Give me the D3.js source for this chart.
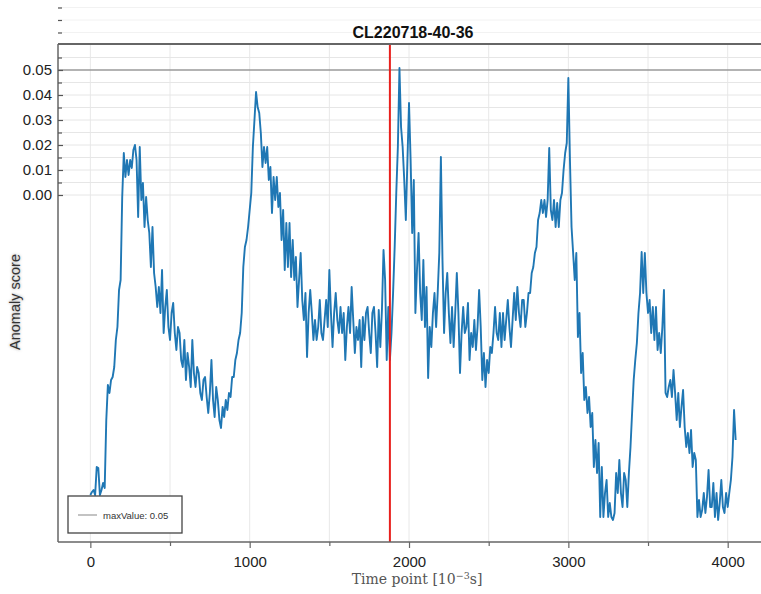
<!DOCTYPE html>
<html>
<head>
<meta charset="utf-8">
<script src="https://cdn.jsdelivr.net/npm/d3@7"></script>
<style>
  html, body { margin: 0; padding: 0; background: #fff; }
  svg { display: block; }
</style>
</head>
<body>
<svg id="chart" width="761" height="594"></svg>
<script>
// ---------------- DATA ----------------
const chartTitle = "CL220718-40-36";
const timeStart = 0;        // first time point [10^-3 s]
const timeStep = 10;        // spacing between samples [10^-3 s]
const anomalyScore = [
  -0.1200,-0.1188,-0.1180,-0.1200,-0.1088,-0.1092,-0.1200,-0.1180,-0.1152,-0.1172,
  -0.0900,-0.0760,-0.0792,-0.0740,-0.0728,-0.0688,-0.0580,-0.0528,-0.0380,-0.0340,
  -0.0008,0.0168,0.0072,0.0140,0.0080,0.0140,0.0108,0.0180,0.0200,0.0140,
  -0.0088,0.0192,-0.0020,0.0048,-0.0128,-0.0008,-0.0100,-0.0152,-0.0288,-0.0128,
  -0.0312,-0.0368,-0.0448,-0.0368,-0.0472,-0.0300,-0.0552,-0.0448,-0.0380,-0.0528,
  -0.0580,-0.0472,-0.0432,-0.0552,-0.0620,-0.0528,-0.0552,-0.0660,-0.0688,-0.0580,
  -0.0740,-0.0632,-0.0688,-0.0768,-0.0580,-0.0712,-0.0768,-0.0688,-0.0712,-0.0792,
  -0.0820,-0.0740,-0.0728,-0.0808,-0.0872,-0.0792,-0.0660,-0.0820,-0.0888,-0.0768,
  -0.0820,-0.0900,-0.0932,-0.0848,-0.0888,-0.0820,-0.0860,-0.0792,-0.0808,-0.0728,
  -0.0728,-0.0660,-0.0632,-0.0580,-0.0552,-0.0472,-0.0288,-0.0208,-0.0180,-0.0128,
  -0.0060,0.0008,0.0192,0.0300,0.0412,0.0352,0.0328,0.0248,0.0112,0.0192,
  0.0128,0.0192,0.0060,0.0112,-0.0072,0.0072,-0.0020,0.0072,-0.0048,0.0008,
  -0.0180,-0.0060,-0.0300,-0.0112,-0.0288,-0.0112,-0.0328,-0.0180,-0.0340,-0.0248,
  -0.0448,-0.0340,-0.0232,-0.0420,-0.0500,-0.0392,-0.0648,-0.0472,-0.0380,-0.0472,
  -0.0580,-0.0500,-0.0580,-0.0528,-0.0420,-0.0552,-0.0580,-0.0500,-0.0420,-0.0528,
  -0.0300,-0.0472,-0.0608,-0.0472,-0.0392,-0.0500,-0.0552,-0.0448,-0.0552,-0.0472,
  -0.0660,-0.0528,-0.0448,-0.0552,-0.0368,-0.0500,-0.0632,-0.0528,-0.0580,-0.0500,
  -0.0688,-0.0488,-0.0580,-0.0472,-0.0448,-0.0552,-0.0632,-0.0472,-0.0448,-0.0552,
  -0.0688,-0.0460,-0.0608,-0.0460,-0.0220,-0.0340,-0.0660,-0.0448,-0.0660,-0.0552,
  -0.0392,-0.0208,0.0008,0.0192,0.0508,0.0272,0.0192,0.0060,-0.0100,0.0140,
  0.0368,0.0140,-0.0152,0.0060,-0.0472,-0.0300,-0.0152,-0.0392,-0.0500,-0.0260,
  -0.0528,-0.0368,-0.0732,-0.0528,-0.0608,-0.0472,-0.0392,-0.0528,-0.0392,-0.0232,
  0.0152,-0.0260,-0.0552,-0.0392,-0.0312,-0.0472,-0.0592,-0.0448,-0.0608,-0.0472,
  -0.0312,-0.0472,-0.0712,-0.0552,-0.0448,-0.0552,-0.0528,-0.0432,-0.0660,-0.0552,
  -0.0608,-0.0500,-0.0620,-0.0528,-0.0380,-0.0528,-0.0740,-0.0632,-0.0768,-0.0660,
  -0.0712,-0.0608,-0.0632,-0.0552,-0.0448,-0.0552,-0.0580,-0.0472,-0.0608,-0.0472,
  -0.0580,-0.0500,-0.0420,-0.0528,-0.0608,-0.0500,-0.0392,-0.0500,-0.0368,-0.0472,
  -0.0528,-0.0420,-0.0420,-0.0528,-0.0472,-0.0392,-0.0392,-0.0312,-0.0288,-0.0232,
  -0.0208,-0.0100,-0.0072,-0.0020,-0.0072,-0.0020,-0.0088,-0.0020,0.0188,-0.0060,
  -0.0100,-0.0020,-0.0128,-0.0032,-0.0128,-0.0020,0.0008,0.0100,0.0168,0.0208,
  0.0468,0.0140,-0.0128,-0.0232,-0.0340,-0.0232,-0.0568,-0.0472,-0.0712,-0.0632,
  -0.0820,-0.0768,-0.0872,-0.0808,-0.0928,-0.0872,-0.1088,-0.0980,-0.1112,-0.0992,
  -0.1288,-0.1088,-0.1288,-0.1192,-0.1140,-0.1288,-0.1232,-0.1288,-0.1300,-0.1272,
  -0.1112,-0.1192,-0.1060,-0.1192,-0.1248,-0.1112,-0.1140,-0.1248,-0.1112,-0.1008,
  -0.0872,-0.0740,-0.0660,-0.0592,-0.0472,-0.0392,-0.0228,-0.0392,-0.0232,-0.0392,
  -0.0472,-0.0420,-0.0552,-0.0448,-0.0580,-0.0448,-0.0620,-0.0552,-0.0632,-0.0528,
  -0.0380,-0.0792,-0.0808,-0.0768,-0.0740,-0.0808,-0.0700,-0.0792,-0.0900,-0.0792,
  -0.0928,-0.0848,-0.0780,-0.0928,-0.1008,-0.0952,-0.1032,-0.0940,-0.1088,-0.1032,
  -0.1060,-0.1288,-0.1220,-0.1288,-0.1260,-0.1192,-0.1272,-0.1208,-0.1100,-0.1248,
  -0.1248,-0.1152,-0.1288,-0.1192,-0.1300,-0.1232,-0.1140,-0.1248,-0.1272,-0.1192,
  -0.1248,-0.1192,-0.1140,-0.1048,-0.0860,-0.0980
];
const maxValue = 0.05;
const markerTime = 1880;     // red vertical marker
const xTickValues = [0, 1000, 2000, 3000, 4000];
const xMinorTickValues = [500, 1500, 2500, 3500];
const yTickValues = [0.00, 0.01, 0.02, 0.03, 0.04, 0.05];
const yMinorTickValues = [0.005, 0.015, 0.025, 0.035, 0.045, 0.055, 0.065, 0.07, 0.075];
const xGridValues = [0, 500, 1000, 1500, 2000, 2500, 3000, 3500, 4000];
const yGridValues = [0.00, 0.005, 0.01, 0.015, 0.02, 0.025, 0.03, 0.035, 0.04, 0.045, 0.055];
const yOuterGridValues = [0.065, 0.07, 0.075];
const legendLabel = "maxValue: 0.05";

// ---------------- LAYOUT ----------------
const svg = d3.select("#chart");
const L = 58, R = 768, T = 44, B = 542;
const x = d3.scaleLinear().domain([-203, 4253]).range([L, R]);
const y = d3.scaleLinear().domain([-0.1388, 0.0604]).range([B, T]);

const points = anomalyScore.map((v, i) => ({ t: timeStart + i * timeStep, v }));

svg.append("defs").append("clipPath").attr("id", "plotclip")
  .append("rect").attr("x", L).attr("y", T).attr("width", R - L).attr("height", B - T);

const blur = svg.select("defs").append("filter").attr("id", "soft")
  .attr("x", "-20%").attr("y", "-20%").attr("width", "140%").attr("height", "140%");
blur.append("feGaussianBlur").attr("stdDeviation", 1.6);

// outer faint grid above plot
svg.append("g").selectAll("line").data(yOuterGridValues).join("line")
  .attr("x1", L).attr("x2", R).attr("y1", d => y(d)).attr("y2", d => y(d))
  .attr("stroke", "#f2f2f2").attr("stroke-width", 1);

// grid
const grid = svg.append("g");
grid.selectAll("line.v").data(xGridValues).join("line").attr("class", "v")
  .attr("x1", d => x(d)).attr("x2", d => x(d)).attr("y1", T).attr("y2", B)
  .attr("stroke", "#e8e8e8").attr("stroke-width", 1);
grid.selectAll("line.h").data(yGridValues).join("line").attr("class", "h")
  .attr("x1", L).attr("x2", R).attr("y1", d => y(d)).attr("y2", d => y(d))
  .attr("stroke", "#e6e6e6").attr("stroke-width", 1);

// max value line
svg.append("line")
  .attr("x1", L).attr("x2", R).attr("y1", y(maxValue)).attr("y2", y(maxValue))
  .attr("stroke", "#9a9a9a").attr("stroke-width", 1.4);

// data line
const line = d3.line().x(d => x(d.t)).y(d => y(d.v));
svg.append("path").datum(points)
  .attr("clip-path", "url(#plotclip)")
  .attr("d", line)
  .attr("fill", "none")
  .attr("stroke", "#1f77b4")
  .attr("stroke-width", 1.9)
  .attr("stroke-linejoin", "round");

// red marker
svg.append("line")
  .attr("x1", x(markerTime)).attr("x2", x(markerTime)).attr("y1", T).attr("y2", B)
  .attr("stroke", "#e8201c").attr("stroke-width", 2);

// frame
svg.append("line").attr("x1", L).attr("x2", R).attr("y1", T).attr("y2", T)
  .attr("stroke", "#666").attr("stroke-width", 2);

// x axis
const xAxis = svg.append("g").attr("transform", `translate(0,${B})`)
  .call(d3.axisBottom(x).tickValues(xTickValues).tickSize(6).tickSizeOuter(0).tickFormat(d3.format("d")));
xAxis.select(".domain").attr("stroke", "#666").attr("stroke-width", 1.5)
  .attr("d", `M${L},0H${R}`);
xAxis.selectAll(".tick line").attr("stroke", "#666").attr("stroke-width", 1.2);
xAxis.selectAll(".tick text").attr("font-family", "Liberation Sans, Arial, sans-serif")
  .attr("font-size", 15).attr("fill", "#222").attr("dy", "1.05em");
const xMinor = svg.append("g").attr("transform", `translate(0,${B})`)
  .call(d3.axisBottom(x).tickValues(xMinorTickValues).tickSize(4).tickFormat(""));
xMinor.select(".domain").remove();
xMinor.selectAll(".tick line").attr("stroke", "#666").attr("stroke-width", 1.2);

// y axis (inner ticks)
const yAxis = svg.append("g").attr("transform", `translate(${L},0)`)
  .call(d3.axisRight(y).tickValues(yTickValues).tickSize(5).tickSizeOuter(0).tickFormat(d3.format(".2f")));
yAxis.select(".domain").attr("stroke", "#666").attr("stroke-width", 1.5)
  .attr("d", `M0,${T}V${B}`);
yAxis.selectAll(".tick line").attr("stroke", "#555").attr("stroke-width", 1.2);
yAxis.selectAll(".tick text").attr("x", -6).attr("text-anchor", "end")
  .attr("font-family", "Liberation Sans, Arial, sans-serif")
  .attr("font-size", 15).attr("fill", "#222");
const yMinor = svg.append("g").attr("transform", `translate(${L},0)`)
  .call(d3.axisRight(y).tickValues(yMinorTickValues).tickSize(4).tickFormat(""));
yMinor.select(".domain").remove();
yMinor.selectAll(".tick line").attr("stroke", "#555").attr("stroke-width", 1.2);

// title
svg.append("text").attr("x", 413).attr("y", 38).attr("text-anchor", "middle")
  .attr("font-family", "Liberation Sans, Arial, sans-serif").attr("font-weight", "bold")
  .attr("font-size", 16).attr("fill", "#111").text(chartTitle);

// x label (serif, LaTeX-like)
const xl = svg.append("text").attr("x", 417).attr("y", 584).attr("text-anchor", "middle")
  .attr("font-family", "DejaVu Serif, Liberation Serif, serif").attr("font-size", 14)
  .attr("fill", "#555");
xl.append("tspan").text("Time point [10");
xl.append("tspan").attr("dy", -5).attr("font-size", 9.5).text("−3");
xl.append("tspan").attr("dy", 5).text("s]");

// y label with soft halo
const ylx = 15, yly = 302;
svg.append("text").attr("transform", `translate(${ylx},${yly}) rotate(-90)`)
  .attr("text-anchor", "middle").attr("dy", "0.35em")
  .attr("font-family", "Liberation Sans, Arial, sans-serif").attr("font-size", 14.5)
  .attr("fill", "#999").attr("filter", "url(#soft)").text("Anomaly score");
svg.append("text").attr("transform", `translate(${ylx},${yly}) rotate(-90)`)
  .attr("text-anchor", "middle").attr("dy", "0.35em")
  .attr("font-family", "Liberation Sans, Arial, sans-serif").attr("font-size", 14.5)
  .attr("fill", "#333").text("Anomaly score");

// legend
const lg = svg.append("g");
lg.append("rect").attr("x", 68).attr("y", 496).attr("width", 114).attr("height", 37)
  .attr("fill", "#fff").attr("stroke", "#444").attr("stroke-width", 1.3);
lg.append("line").attr("x1", 78).attr("x2", 97).attr("y1", 515).attr("y2", 515)
  .attr("stroke", "#aaa").attr("stroke-width", 1.4);
lg.append("text").attr("x", 103).attr("y", 518.5)
  .attr("font-family", "Liberation Sans, Arial, sans-serif").attr("font-size", 9.5)
  .attr("fill", "#333").text(legendLabel);
</script>
</body>
</html>
